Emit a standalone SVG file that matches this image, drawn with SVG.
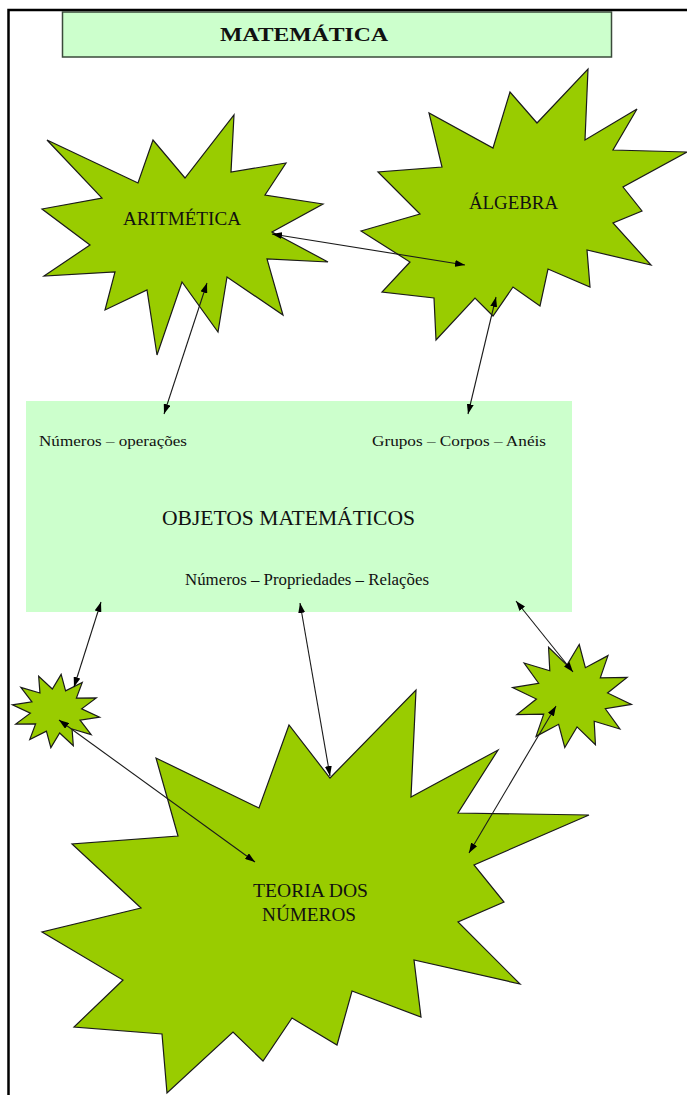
<svg xmlns="http://www.w3.org/2000/svg" width="687" height="1095" viewBox="0 0 687 1095">
<style>
.star{fill:#99cc00;stroke:#1a1a1a;stroke-width:1.2;stroke-linejoin:miter}
.box{fill:#ccffcc}
.t{font-family:'Liberation Serif','DejaVu Serif',serif;fill:#111}
.c{stroke:#1a1a1a;stroke-width:1.1;fill:none;marker-start:url(#ah);marker-end:url(#ah)}
</style>
<defs>
<marker id="ah" viewBox="0 0 10 7" refX="10" refY="3.5" markerWidth="10" markerHeight="7" markerUnits="userSpaceOnUse" orient="auto-start-reverse">
<path d="M0,0 L10,3.5 L0,7 z" fill="#000"/>
</marker>
</defs>
<rect width="687" height="1095" fill="#fff"/>
<path d="M8.5,1095 L8.5,10 L687,10" fill="none" stroke="#000" stroke-width="2.5"/>

<g id="title">
<rect x="62.5" y="12" width="549" height="45" fill="#ccffcc" stroke="#3a4a3a" stroke-width="1.5"/>
<text class="t" font-family="Liberation Serif, serif" x="220" y="41" font-size="19" font-weight="bold" textLength="168" lengthAdjust="spacingAndGlyphs">MATEMÁTICA</text>
</g>

<g id="aritmetica">
<polygon class="star" points="47,140 138,183 153,140 185,178 234,115 231,172 286,163 265,195 323,204 272,232 328,262 267,259 283,315 227,277 218,332 182,282 157,355 147,290 105,310 115,272 44,276 90,245 42,209 102,198"/>
<text class="t" font-family="Liberation Serif, serif" x="123" y="225" font-size="19" textLength="118" lengthAdjust="spacingAndGlyphs">ARITMÉTICA</text>
</g>

<g id="algebra">
<polygon class="star" points="361,231 420,214 378,172 442,167 429,113 493,148 510,92 537,123 588,69 585,140 637,109 613,150 687,152 623,187 642,211 613,223 651,265 587,250 590,287 548,269 540,306 513,287 493,316 475,298 436,340 434,298 382,292 410,262"/>
<text class="t" font-family="Liberation Serif, serif" x="469" y="209" font-size="19" textLength="89" lengthAdjust="spacingAndGlyphs">ÁLGEBRA</text>
</g>

<g id="objetos">
<rect class="box" x="26" y="401" width="546" height="211"/>
<text class="t" font-family="Liberation Serif, serif" x="39" y="446" font-size="15" textLength="148" lengthAdjust="spacingAndGlyphs">Números – operações</text>
<text class="t" font-family="Liberation Serif, serif" x="372" y="446" font-size="15" textLength="174" lengthAdjust="spacingAndGlyphs">Grupos – Corpos – Anéis</text>
<text class="t" font-family="Liberation Serif, serif" x="162" y="525" font-size="20" textLength="253" lengthAdjust="spacingAndGlyphs">OBJETOS MATEMÁTICOS</text>
<text class="t" font-family="Liberation Serif, serif" x="185" y="585" font-size="16" textLength="244" lengthAdjust="spacingAndGlyphs">Números – Propriedades – Relações</text>
</g>

<g id="star-left">
<polygon class="star" points="56,674 62.7,689.7 78,679 74.4,695.4 94.1,692.5 81.1,705.3 100,711 81.1,716.7 94.1,729.5 74.4,726.6 78,743 62.7,732.3 56,748 49.3,732.3 34,743 37.6,726.6 17.9,729.5 30.9,716.7 12,711 30.9,705.3 17.9,692.5 37.6,695.4 34,679 49.3,689.7" transform="rotate(8 56 711)"/>
</g>

<g id="star-right">
<polygon class="star" points="572,644 581.3,666.1 602,651 597.5,674.1 624,670 606.8,688 632,696 606.8,704 624,722 597.5,717.9 602,741 581.3,725.9 572,748 562.7,725.9 542,741 546.5,717.9 520,722 537.2,704 512,696 537.2,688 520,670 546.5,674.1 542,651 562.7,666.1" transform="rotate(8 572 696)"/>
</g>

<g id="teoria">
<polygon class="star" points="416,690 411,797 498,750 458,813 589,815 474,865 504,902 458,922 520,984 414,960 421,1017 352,991 337,1045 292,1018 263,1061 233,1032 167,1093 162,1034 74,1027 123,980 42,932 141,908 72,844 178,836 156,758 259,808 289,725 330,778"/>
<text class="t" font-family="Liberation Serif, serif" x="253" y="897" font-size="19" textLength="115" lengthAdjust="spacingAndGlyphs">TEORIA DOS</text>
<text class="t" font-family="Liberation Serif, serif" x="262" y="921" font-size="19" textLength="94" lengthAdjust="spacingAndGlyphs">NÚMEROS</text>
</g>

<g id="connectors">
<line class="c" x1="272" y1="234" x2="465" y2="265"/>
<line class="c" x1="207" y1="283" x2="164" y2="414"/>
<line class="c" x1="496" y1="297" x2="468" y2="414"/>
<line class="c" x1="101" y1="602" x2="74" y2="687"/>
<line class="c" x1="300" y1="603" x2="330" y2="776"/>
<line class="c" x1="516" y1="601" x2="573" y2="672"/>
<line class="c" x1="59" y1="720" x2="255" y2="862"/>
<line class="c" x1="556" y1="706" x2="469" y2="853"/>
</g>
</svg>
